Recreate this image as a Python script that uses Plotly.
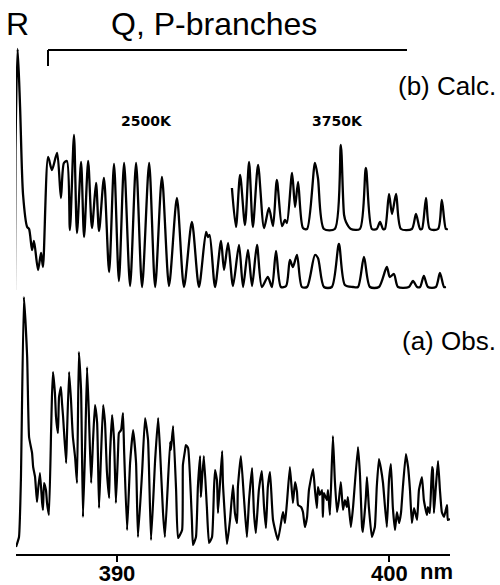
import plotly.graph_objects as go

# ---- Calculated spectrum, 2500 K (wavelength nm, intensity arb. units) ----
calc2500_nm = [386.25, 386.27, 386.35, 386.44, 386.55, 386.70, 386.77, 386.88, 386.95, 387.10,
               387.21, 387.28, 387.47, 387.61, 387.80, 387.94, 388.05, 388.16, 388.27, 388.42,
               388.53, 388.68, 388.79, 388.94, 389.08, 389.23, 389.34, 389.52, 389.71, 389.89,
               390.07, 390.26, 390.48, 390.70, 390.92, 391.18, 391.40, 391.65, 391.91, 392.20,
               392.46, 392.75, 393.01, 393.27, 393.34, 393.40, 393.60, 393.82, 393.93, 394.08,
               394.26, 394.48, 394.63, 394.81, 394.96, 395.14, 395.32, 395.54, 395.69, 395.84,
               396.02, 396.21, 396.35, 396.46, 396.61, 396.79, 396.98, 397.27, 397.38, 397.60,
               397.89, 398.15, 398.37, 398.67, 398.85, 399.07, 399.29, 399.62, 399.91, 400.02,
               400.17, 400.32, 400.72, 400.87, 401.02, 401.13, 401.27, 401.42, 401.71, 401.86,
               402.01, 402.08]
calc2500_int = [264, 404, 505, 447, 359, 327, 325, 304, 313, 284,
                301, 287, 397, 384, 401, 356, 391, 393, 324, 419,
                321, 392, 317, 393, 326, 371, 323, 376, 282, 390,
                273, 391, 268, 391, 267, 391, 267, 377, 268, 356,
                267, 332, 267, 322, 317, 319, 267, 313, 284, 311,
                268, 309, 267, 304, 268, 309, 267, 277, 267, 303,
                267, 268, 294, 287, 299, 267, 267, 299, 296, 267,
                267, 310, 269, 267, 267, 297, 267, 267, 287, 277,
                280, 267, 267, 273, 267, 267, 278, 267, 267, 281,
                267, 267]

# ---- Calculated spectrum, 3750 K (offset trace) ----
calc3750_nm = [394.22, 394.37, 394.52, 394.70, 394.85, 394.99, 395.18, 395.40, 395.58, 395.73,
               395.87, 396.06, 396.17, 396.24, 396.43, 396.54, 396.65, 396.83, 396.98, 397.27,
               397.38, 397.60, 398.00, 398.22, 398.34, 398.41, 398.59, 398.92, 399.14, 399.36,
               399.54, 399.66, 399.77, 399.84, 399.99, 400.10, 400.25, 400.43, 400.83, 400.98,
               401.13, 401.20, 401.35, 401.49, 401.79, 401.93, 402.08, 402.15]
calc3750_int = [366, 327, 379, 329, 392, 327, 389, 326, 346, 328,
                374, 328, 334, 331, 381, 347, 372, 326, 325, 391,
                376, 325, 325, 409, 339, 332, 325, 325, 386, 325,
                325, 332, 325, 325, 360, 340, 360, 325, 325, 340,
                325, 325, 356, 325, 325, 354, 325, 325]

# ---- Observed spectrum ----
obs_nm = [386.29, 386.40, 386.47, 386.58, 386.70, 386.77, 386.88, 386.92, 386.99, 387.06,
          387.10, 387.17, 387.25, 387.28, 387.32, 387.39, 387.43, 387.50, 387.58, 387.61,
          387.65, 387.72, 387.76, 387.83, 387.87, 387.94, 387.98, 388.02, 388.13, 388.16,
          388.24, 388.31, 388.35, 388.38, 388.46, 388.53, 388.60, 388.68, 388.75, 388.83,
          388.90, 388.97, 389.05, 389.12, 389.19, 389.27, 389.34, 389.41, 389.49, 389.56,
          389.63, 389.71, 389.74, 389.82, 389.89, 389.96, 390.04, 390.07, 390.15, 390.22,
          390.26, 390.37, 390.48, 390.59, 390.70, 390.77, 390.92, 391.03, 391.14, 391.25,
          391.40, 391.51, 391.58, 391.69, 391.76, 391.95, 391.98, 392.06, 392.17, 392.24,
          392.39, 392.42, 392.50, 392.53, 392.61, 392.75, 392.79, 392.90, 392.97, 393.05,
          393.08, 393.12, 393.19, 393.30, 393.38, 393.49, 393.56, 393.60, 393.67, 393.71,
          393.86, 393.89, 394.04, 394.15, 394.26, 394.33, 394.41, 394.44, 394.55, 394.66,
          394.77, 394.85, 394.96, 395.03, 395.10, 395.21, 395.32, 395.40, 395.47, 395.54,
          395.62, 395.73, 395.91, 396.06, 396.10, 396.17, 396.24, 396.35, 396.46, 396.54,
          396.61, 396.65, 396.76, 396.83, 396.90, 396.98, 397.05, 397.20, 397.27, 397.34,
          397.38, 397.45, 397.53, 397.56, 397.60, 397.71, 397.75, 397.82, 397.93, 398.00,
          398.08, 398.15, 398.22, 398.30, 398.37, 398.44, 398.48, 398.59, 398.67, 398.85,
          398.92, 399.00, 399.03, 399.14, 399.18, 399.25, 399.36, 399.47, 399.54, 399.62,
          399.69, 399.77, 399.91, 399.99, 400.06, 400.13, 400.21, 400.28, 400.36, 400.43,
          400.50, 400.61, 400.69, 400.76, 400.83, 400.91, 401.02, 401.09, 401.20, 401.27,
          401.38, 401.42, 401.49, 401.57, 401.60, 401.64, 401.71, 401.79, 401.86, 401.93,
          402.01, 402.12, 402.15, 402.23]
obs_int = [7, 17, 74, 257, 197, 117, 101, 87, 77, 52,
           64, 81, 51, 44, 71, 64, 51, 39, 124, 157,
           182, 161, 137, 121, 157, 167, 151, 137, 91, 117,
           182, 154, 131, 117, 97, 71, 202, 164, 37, 107,
           187, 137, 71, 114, 149, 131, 46, 97, 149, 131,
           82, 56, 97, 139, 114, 51, 104, 121, 124, 141,
           104, 24, 91, 124, 91, 17, 81, 136, 114, 14,
           94, 136, 104, 41, 17, 112, 104, 128, 64, 16,
           24, 89, 104, 109, 106, 34, 9, 17, 67, 98,
           57, 74, 98, 47, 11, 17, 64, 84, 74, 41,
           103, 71, 10, 34, 69, 41, 31, 67, 98, 57,
           17, 54, 86, 41, 21, 64, 83, 47, 26, 67,
           82, 34, 14, 37, 42, 31, 51, 87, 51, 72,
           62, 49, 47, 42, 27, 37, 64, 85, 64, 46,
           67, 59, 64, 37, 61, 54, 64, 39, 118, 74,
           42, 54, 72, 44, 54, 47, 57, 27, 47, 107,
           81, 27, 22, 57, 77, 47, 17, 27, 67, 95,
           86, 71, 27, 74, 90, 47, 24, 42, 31, 41,
           67, 100, 87, 64, 31, 46, 34, 64, 77, 54,
           39, 47, 41, 87, 84, 41, 67, 93, 64, 42,
           37, 49, 34, 35]

tick_vals = [390, 400]
tick_text = ["<b>390</b>", "<b>400</b>"]

W, H = 500, 585
PLOT_L, PLOT_R, PLOT_T, PLOT_B = 16, 450, 0, 554   # pixels of the plot area
ML, MR, MT, MB = PLOT_L, W - PLOT_R, PLOT_T, H - PLOT_B
PW, PH = PLOT_R - PLOT_L, PLOT_B - PLOT_T


def px(xp):
    return (xp - PLOT_L) / PW


def py(yp):
    return (PLOT_B - yp) / PH


fig = go.Figure()
line_style = dict(color="black", width=2.3, shape="spline", smoothing=0.75)
fig.add_trace(go.Scatter(x=calc2500_nm, y=calc2500_int, mode="lines", line=line_style,
                         hoverinfo="skip", name="Calc. 2500K"))
fig.add_trace(go.Scatter(x=calc3750_nm, y=calc3750_int, mode="lines", line=line_style,
                         hoverinfo="skip", name="Calc. 3750K"))
fig.add_trace(go.Scatter(x=obs_nm, y=obs_int, mode="lines",
                         line=dict(color="black", width=2.2, shape="spline", smoothing=0.4),
                         hoverinfo="skip", name="Obs."))

main_font = dict(family="Liberation Sans, Arial, sans-serif", color="black")
anns = [
    dict(text="R", x=px(17), y=py(24), size=32, xanchor="center"),
    dict(text="Q, P-branches", x=px(214), y=py(24), size=32, xanchor="center"),
    dict(text="(b) Calc.", x=px(498), y=py(86), size=26, xanchor="right"),
    dict(text="(a) Obs.", x=px(498), y=py(341), size=26, xanchor="right"),
]
for a in anns:
    fig.add_annotation(text=a["text"], x=a["x"], y=a["y"], xref="paper", yref="paper",
                       xanchor=a["xanchor"], yanchor="middle", showarrow=False,
                       font=dict(size=a["size"], **main_font))
for t, xc in (("2500K", 146), ("3750K", 337)):
    fig.add_annotation(text="<b>" + t + "</b>", x=px(xc), y=py(121), xref="paper", yref="paper",
                       xanchor="center", yanchor="middle", showarrow=False,
                       font=dict(size=14, family="DejaVu Sans, sans-serif", color="black"))
fig.add_annotation(text="<b>nm</b>", x=px(436), y=py(571), xref="paper", yref="paper",
                   xanchor="center", yanchor="middle", showarrow=False,
                   font=dict(size=22, **main_font))

# bracket over Q, P branches
fig.add_shape(type="line", xref="paper", yref="paper", x0=px(48), x1=px(407), y0=py(50), y1=py(50),
              line=dict(color="black", width=2))
fig.add_shape(type="line", xref="paper", yref="paper", x0=px(48), x1=px(48), y0=py(50), y1=py(66),
              line=dict(color="black", width=2))

fig.update_layout(
    width=W, height=H, margin=dict(l=ML, r=MR, t=MT, b=MB, pad=0, autoexpand=False),
    paper_bgcolor="white", plot_bgcolor="white", showlegend=False,
    xaxis=dict(range=[386.29, 402.23], showline=True, linewidth=2, linecolor="black",
               ticks="outside", ticklen=6, tickwidth=2, tickcolor="black",
               tickvals=tick_vals, ticktext=tick_text, showgrid=False, zeroline=False,
               automargin=False, ticklabelstandoff=-7,
               tickfont=dict(size=22, **main_font)),
    yaxis=dict(range=[0, PH], visible=False, showgrid=False, zeroline=False, automargin=False),
)

# remove the browser's default 8px body margin so the figure fills the window
fig.write_html("out.html", config={"displayModeBar": False},
               post_script="document.body.style.margin='0px';")
